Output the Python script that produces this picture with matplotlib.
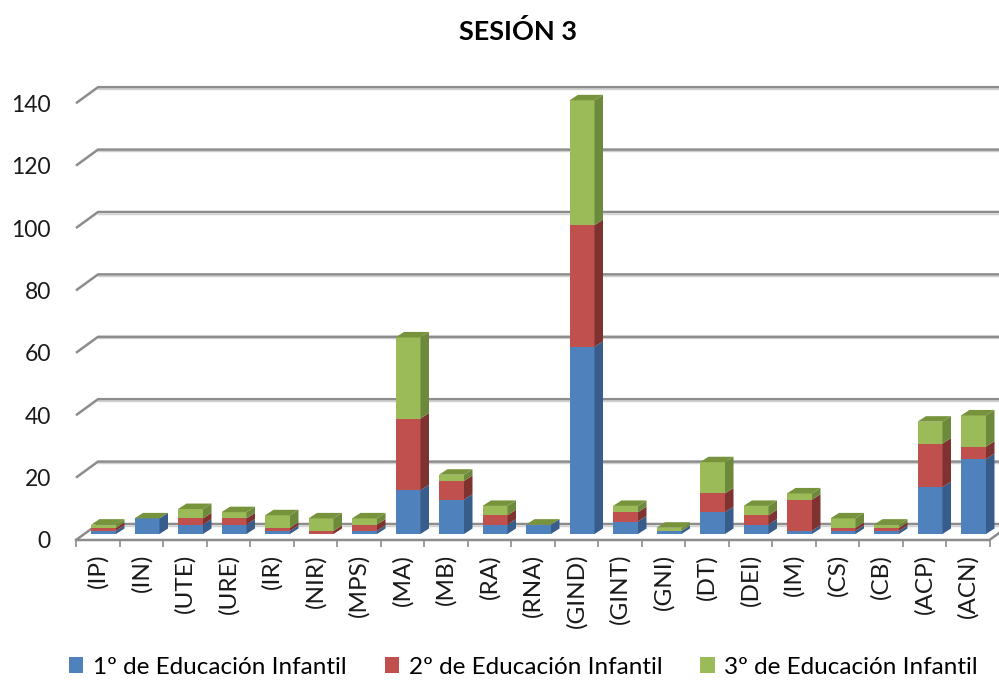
import matplotlib
matplotlib.use("Agg")
import matplotlib.pyplot as plt
from matplotlib.patches import Polygon, Patch

plt.rcParams['font.family'] = ['Lato', 'DejaVu Sans']

categories = ["(IP)", "(IN)", "(UTE)", "(URE)", "(IR)", "(NIR)", "(MPS)", "(MA)", "(MB)", "(RA)",
              "(RNA)", "(GIND)", "(GINT)", "(GNI)", "(DT)", "(DEI)", "(IM)", "(CS)", "(CB)", "(ACP)", "(ACN)"]
primero = [1, 5, 3, 3, 1, 0, 1, 14, 11, 3, 3, 60, 4, 1, 7, 3, 1, 1, 1, 15, 24]
segundo = [1, 0, 2, 2, 1, 1, 2, 23, 6, 3, 0, 39, 3, 0, 6, 3, 10, 1, 1, 14, 4]
tercero = [1, 0, 3, 2, 4, 4, 2, 26, 2, 3, 0, 40, 2, 1, 10, 3, 2, 3, 1, 7, 10]
series_names = ["1º de Educación Infantil", "2º de Educación Infantil", "3º de Educación Infantil"]
yticks = [0, 20, 40, 60, 80, 100, 120, 140]
title = "SESIÓN 3"

front_cols = ["#4F81BD", "#C0504D", "#9BBB59"]
side_cols = ["#385D8A", "#7F3331", "#6D8A3C"]
top_col = "#77933C"

W, H = 999, 686
fig = plt.figure(figsize=(W / 100, H / 100), dpi=100)

# pixel geometry
px_left, px_zero, px_cat, px_unit = 76, 540, 43.5, 3.12
n = len(categories)
ax = fig.add_axes([px_left / W, (H - px_zero) / H, n * px_cat / W, 140 * px_unit / H])
ax.set_xlim(-0.5, n - 0.5)
ax.set_ylim(0, 140)
for s in ax.spines.values():
    s.set_visible(False)

# depth offsets in data units
WDX, WDY = 22 / px_cat, 16 / px_unit          # back wall
BDX, BDY = 15 / px_cat, 6 / px_unit           # bar front-face offset
bw = 25 / px_cat
DDX, DDY = 8.5 / px_cat, 5.5 / px_unit        # bar depth

grid_col = "#8C8C8C"
for v in yticks:
    ax.plot([-0.5, -0.5 + WDX, n - 0.5 + WDX + 1], [v, v + WDY, v + WDY],
            color=grid_col, lw=1.8, clip_on=False, zorder=1, solid_capstyle='butt')
    ax.plot([-0.5 + WDX, n - 0.5 + WDX + 1], [v + WDY - 0.5, v + WDY - 0.5],
            color="#D0D0D0", lw=1.0, clip_on=False, zorder=0.9)
# floor front edge and right diagonal
ax.plot([-0.5, n - 0.5, n - 0.5 + WDX], [0, 0, WDY], color=grid_col, lw=1.8,
        clip_on=False, zorder=1)

# bars
for i in range(n):
    x0 = i - 0.5 + BDX
    b = BDY
    vals = [primero[i], segundo[i], tercero[i]]
    for k, v in enumerate(vals):
        if v <= 0:
            continue
        ax.add_patch(Polygon([(x0, b), (x0 + bw, b), (x0 + bw, b + v), (x0, b + v)],
                             closed=True, facecolor=front_cols[k], edgecolor='none',
                             clip_on=False, zorder=3))
        ax.add_patch(Polygon([(x0 + bw, b), (x0 + bw + DDX, b + DDY),
                              (x0 + bw + DDX, b + v + DDY), (x0 + bw, b + v)],
                             closed=True, facecolor=side_cols[k], edgecolor='none',
                             clip_on=False, zorder=3))
        b += v
    ax.add_patch(Polygon([(x0, b), (x0 + bw, b), (x0 + bw + DDX, b + DDY), (x0 + DDX, b + DDY)],
                         closed=True, facecolor=top_col, edgecolor='none',
                         clip_on=False, zorder=3))

# y ticks
ax.set_yticks(yticks)
ax.set_yticklabels([str(v) for v in yticks], fontsize=16.5, color="#1a1a1a")
ax.tick_params(axis='y', length=0, pad=18)

# x ticks
ax.set_xticks(range(n))
ax.set_xticklabels(categories, rotation=90, fontsize=17.5, color="#1a1a1a")
ax.tick_params(axis='x', which='major', length=0, pad=10)
ax.set_xticks([i - 0.5 for i in range(n + 1)], minor=True)
ax.tick_params(axis='x', which='minor', length=5, width=1.2, color=grid_col, direction='out')

fig.text(518 / W, 1 - 31 / H, title, ha='center', va='center', fontsize=19.5, fontweight='bold')

handles = [Patch(facecolor=c, edgecolor='none') for c in front_cols]
fig.legend(handles, series_names, loc='center', bbox_to_anchor=(0.524, 19 / H), ncol=3,
           frameon=False, fontsize=17.5, handlelength=0.6, handleheight=0.6,
           handletextpad=0.4, columnspacing=1.55)

fig.savefig("out.png", dpi=100)
